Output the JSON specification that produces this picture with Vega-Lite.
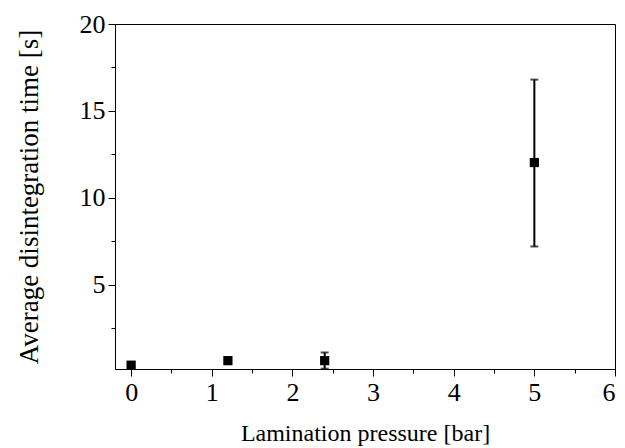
{
  "$schema": "https://vega.github.io/schema/vega-lite/v6.json",
  "autosize": "none",
  "width": 500,
  "height": 345,
  "padding": {"left": 115, "top": 24, "right": 10, "bottom": 79},
  "background": "white",
  "config": {
    "view": {"stroke": "black", "strokeWidth": 1},
    "axis": {
      "labelFont": "Liberation Serif",
      "titleFont": "Liberation Serif",
      "labelFontSize": 26,
      "titleFontSize": 24,
      "titleFontWeight": "normal",
      "labelColor": "black",
      "titleColor": "black",
      "domainColor": "black",
      "tickColor": "black",
      "grid": false
    }
  },
  "data": {
    "values": [
      {"p": 0, "t": 0.37, "lo": 0.27, "hi": 0.47},
      {"p": 1.2, "t": 0.63, "lo": 0.53, "hi": 0.73},
      {"p": 2.4, "t": 0.63, "lo": 0.17, "hi": 1.1},
      {"p": 5, "t": 12.03, "lo": 7.2, "hi": 16.8}
    ]
  },
  "layer": [
    {
      "mark": {"type": "errorbar", "thickness": 2, "color": "black", "ticks": {"size": 8, "thickness": 2, "color": "black"}},
      "encoding": {
        "x": {"field": "p", "type": "quantitative", "scale": {"domain": [-0.2, 6], "nice": false, "zero": false},
          "axis": {"values": [0.5, 1.5, 2.5, 3.5, 4.5, 5.5], "labels": false, "tickSize": 4, "domain": false, "title": null, "orient": "bottom"}},
        "y": {"field": "lo", "type": "quantitative", "scale": {"domain": [0.15, 20], "nice": false, "zero": false},
          "axis": {"values": [2.5, 7.5, 12.5, 17.5], "labels": false, "tickSize": 4, "domain": false, "title": null, "orient": "left"}},
        "y2": {"field": "hi"}
      }
    },
    {
      "mark": {"type": "square", "size": 85, "color": "black", "opacity": 1},
      "encoding": {
        "x": {"field": "p", "type": "quantitative",
          "axis": {"values": [0, 1, 2, 3, 4, 5, 6], "tickSize": 7, "labelPadding": 3, "title": "Lamination pressure [bar]", "titlePadding": 16, "orient": "bottom"}},
        "y": {"field": "t", "type": "quantitative",
          "axis": {"values": [5, 10, 15, 20], "tickSize": 7, "labelPadding": 3, "title": "Average disintegration time [s]", "titleFontSize": 27, "titlePadding": 36, "orient": "left"}}
      }
    }
  ],
  "resolve": {"axis": {"x": "independent", "y": "independent"}}
}
